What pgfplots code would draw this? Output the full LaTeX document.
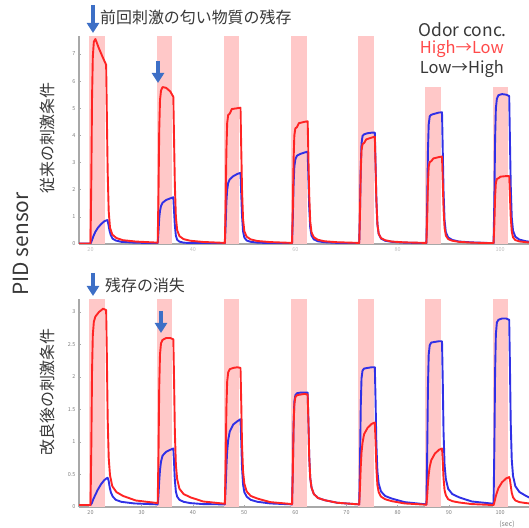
\documentclass[border=0pt]{standalone}
\usepackage{fontspec}
\setmainfont{Noto Sans CJK JP}
\usepackage{pgfplots}
\pgfplotsset{compat=1.18}
\usetikzlibrary{arrows.meta}
\definecolor{lred}{HTML}{FF2424}
\definecolor{lblue}{HTML}{3030E6}
\definecolor{band}{HTML}{FFC8C8}
\definecolor{arr}{HTML}{3D6FC6}
\definecolor{axgray}{HTML}{A8A8A8}
\definecolor{txtgray}{HTML}{383838}
\definecolor{legred}{HTML}{FF4A4A}
\pgfplotsset{
  panel/.style={scale only axis, width=450bp, height=208bp,
    xmin=17.75, xmax=105.64,
    axis x line*=bottom, axis y line*=left,
    axis line style={axgray, line width=1.3pt, -},
    tick style={axgray, line width=0.5pt}, major tick length=2pt,
    tick label style={font=\fontsize{5.5}{6}\selectfont, text=gray},
    /pgf/number format/assume math mode=true,
    clip=true},
  rline/.style={lred, line width=1.9bp, line join=round},
  bline/.style={lblue, line width=1.9bp, line join=round},
  bandf/.style={fill=band, draw=none, forget plot},
}
\begin{document}
\begin{tikzpicture}
\useasboundingbox (0bp,0bp) rectangle (529bp,528bp);
% ---------- top panel ----------
\begin{axis}[panel, at={(79bp,284bp)}, anchor=south west,
  ymin=0, ymax=7.66, ytick={0,1,...,7}, xtick={20,40,...,100},
  xticklabel style={text=gray!50}]
\addplot[bandf] coordinates {(19.8,7.66)(22.85,7.66)} \closedcycle;
\addplot[bandf] coordinates {(32.92,7.66)(35.97,7.66)} \closedcycle;
\addplot[bandf] coordinates {(46.04,7.66)(49.09,7.66)} \closedcycle;
\addplot[bandf] coordinates {(59.16,7.66)(62.21,7.66)} \closedcycle;
\addplot[bandf] coordinates {(72.28,7.66)(75.33,7.66)} \closedcycle;
\addplot[bandf] coordinates {(85.40,5.8)(88.45,5.8)} \closedcycle;
\addplot[bandf] coordinates {(98.52,5.8)(101.57,5.8)} \closedcycle;
\addplot[bline] coordinates {
(17.5,0.02)(20.0,0.02)(20.25,0.12)(20.55,0.28)(20.95,0.45)(21.45,0.6)(22.05,0.73)(22.65,0.83)(23.1,0.87)(23.3,0.88)(23.5,0.72)(23.7,0.5)(23.95,0.33)(24.3,0.2)(24.9,0.13)(26.0,0.08)(28.5,0.05)
(33.12,0.03)(33.27,0.45)(33.42,0.95)(33.57,1.22)(33.77,1.4)(34.07,1.52)(34.77,1.62)(35.57,1.68)(36.17,1.72)(36.32,1.2)(36.47,0.69)(36.67,0.31)(36.92,0.155)(37.37,0.086)(38.17,0.05)(39.47,0.035)(41.97,0.03)
(46.24,0.03)(46.39,0.7)(46.54,1.55)(46.69,2.0)(46.89,2.25)(47.19,2.38)(47.89,2.5)(48.69,2.58)(49.29,2.62)(49.44,1.83)(49.59,1.05)(49.79,0.47)(50.04,0.24)(50.49,0.13)(51.29,0.08)(52.59,0.05)(55.09,0.035)
(59.36,0.03)(59.51,0.95)(59.66,2.2)(59.81,2.85)(60.01,3.12)(60.31,3.25)(61.01,3.32)(61.81,3.37)(62.41,3.4)(62.56,2.38)(62.71,1.36)(62.91,0.61)(63.16,0.31)(63.61,0.17)(64.41,0.1)(65.71,0.065)(68.21,0.04)
(72.48,0.03)(72.63,1.2)(72.78,2.85)(72.93,3.7)(73.13,3.98)(73.43,4.04)(74.13,4.08)(74.93,4.1)(75.53,4.1)(75.68,2.87)(75.83,1.64)(76.03,0.74)(76.28,0.37)(76.73,0.2)(77.53,0.12)(78.83,0.08)(81.33,0.05)
(85.60,0.03)(85.75,1.4)(85.90,3.4)(86.05,4.4)(86.25,4.7)(86.55,4.76)(87.25,4.8)(88.05,4.84)(88.65,4.85)(88.80,3.4)(88.95,1.94)(89.15,0.87)(89.40,0.44)(89.85,0.24)(90.65,0.15)(91.95,0.09)(94.45,0.06)
(98.72,0.03)(98.87,1.6)(99.02,3.9)(99.17,5.0)(99.37,5.35)(99.67,5.48)(100.37,5.52)(101.17,5.5)(101.77,5.45)(101.92,3.8)(102.07,2.18)(102.27,0.98)(102.52,0.49)(102.97,0.27)(103.77,0.16)(105.07,0.1)(106.4,0.07)
};
\addplot[rline] coordinates {
(17.5,0.02)(20.00,0.02)(20.15,2.3)(20.30,5.4)(20.45,6.9)(20.65,7.45)(20.95,7.55)(21.65,7.2)(22.45,6.85)(23.05,6.6)(23.20,4.6)(23.35,2.66)(23.55,1.21)(23.80,0.61)(24.25,0.35)(25.05,0.22)(26.35,0.14)(28.85,0.09)
(33.12,0.05)(33.27,1.8)(33.42,4.2)(33.57,5.3)(33.77,5.65)(34.07,5.78)(34.77,5.75)(35.57,5.62)(36.17,5.42)(36.32,3.8)(36.47,2.2)(36.67,1.0)(36.92,0.51)(37.37,0.29)(38.17,0.18)(39.47,0.12)(41.97,0.075)
(46.24,0.04)(46.39,1.45)(46.54,3.45)(46.69,4.45)(46.89,4.75)(47.19,4.8)(47.39,4.88)(47.59,4.97)(48.69,5.0)(49.29,5.02)(49.44,3.5)(49.59,2.0)(49.79,0.92)(50.04,0.47)(50.49,0.27)(51.29,0.17)(52.59,0.11)(55.09,0.07)
(59.36,0.04)(59.51,1.3)(59.66,3.1)(59.81,4.0)(60.01,4.26)(60.31,4.3)(60.51,4.38)(60.71,4.45)(61.81,4.5)(62.41,4.52)(62.56,3.17)(62.71,1.83)(62.91,0.83)(63.16,0.43)(63.61,0.25)(64.41,0.155)(65.71,0.1)(68.21,0.065)
(72.48,0.04)(72.63,1.12)(72.78,2.68)(72.93,3.46)(73.13,3.68)(73.43,3.72)(73.63,3.78)(73.83,3.85)(74.93,3.92)(75.53,3.95)(75.68,2.77)(75.83,1.6)(76.03,0.73)(76.28,0.38)(76.73,0.22)(77.53,0.14)(78.83,0.09)(81.33,0.06)
(85.60,0.04)(85.75,0.92)(85.90,2.2)(86.05,2.84)(86.25,3.02)(86.55,3.05)(86.75,3.1)(86.95,3.15)(88.05,3.2)(88.65,3.22)(88.80,2.26)(88.95,1.3)(89.15,0.6)(89.40,0.31)(89.85,0.18)(90.65,0.12)(91.95,0.08)(94.45,0.05)
(98.72,0.03)(98.87,0.73)(99.02,1.74)(99.17,2.25)(99.37,2.4)(99.67,2.42)(99.87,2.45)(100.07,2.48)(101.17,2.5)(101.77,2.5)(101.92,1.75)(102.07,1.0)(102.27,0.47)(102.52,0.245)(102.97,0.145)(103.77,0.095)(105.07,0.065)(106.4,0.05)
};
\end{axis}
% ---------- bottom panel ----------
\begin{axis}[panel, at={(79bp,21bp)}, anchor=south west,
  ymin=0, ymax=3.2, ytick={0,0.5,...,3}, xtick={20,30,...,100}]
\addplot[bandf] coordinates {(19.8,3.2)(22.85,3.2)} \closedcycle;
\addplot[bandf] coordinates {(32.92,3.2)(35.97,3.2)} \closedcycle;
\addplot[bandf] coordinates {(46.04,3.2)(49.09,3.2)} \closedcycle;
\addplot[bandf] coordinates {(59.16,3.2)(62.21,3.2)} \closedcycle;
\addplot[bandf] coordinates {(72.28,3.2)(75.33,3.2)} \closedcycle;
\addplot[bandf] coordinates {(85.40,3.2)(88.45,3.2)} \closedcycle;
\addplot[bandf] coordinates {(98.52,3.2)(101.57,3.2)} \closedcycle;
\addplot[bline] coordinates {
(17.5,0.03)(20.0,0.03)(20.25,0.06)(20.55,0.12)(20.95,0.19)(21.45,0.27)(22.05,0.35)(22.65,0.41)(23.1,0.44)(23.35,0.45)(23.55,0.4)(23.75,0.3)(24.0,0.22)(24.35,0.16)(24.95,0.11)(26.0,0.08)(28.5,0.055)
(33.12,0.04)(33.27,0.18)(33.42,0.4)(33.57,0.57)(33.77,0.7)(34.07,0.79)(34.77,0.85)(35.57,0.88)(36.17,0.9)(36.32,0.68)(36.47,0.41)(36.67,0.24)(36.92,0.16)(37.37,0.11)(38.17,0.08)(39.47,0.06)(41.97,0.045)
(46.24,0.04)(46.39,0.3)(46.54,0.62)(46.69,0.86)(46.89,1.03)(47.19,1.16)(47.89,1.27)(48.69,1.32)(49.29,1.35)(49.44,1.01)(49.59,0.61)(49.79,0.35)(50.04,0.23)(50.49,0.16)(51.29,0.11)(52.59,0.08)(55.09,0.055)
(59.36,0.04)(59.51,0.55)(59.66,1.27)(59.81,1.62)(60.01,1.72)(60.31,1.75)(61.01,1.76)(61.81,1.76)(62.41,1.76)(62.56,1.32)(62.71,0.79)(62.91,0.45)(63.16,0.3)(63.61,0.2)(64.41,0.14)(65.71,0.105)(68.21,0.065)
(72.48,0.04)(72.63,0.67)(72.78,1.55)(72.93,1.98)(73.13,2.1)(73.43,2.13)(74.13,2.14)(74.93,2.15)(75.53,2.15)(75.68,1.61)(75.83,0.97)(76.03,0.55)(76.28,0.36)(76.73,0.24)(77.53,0.17)(78.83,0.13)(81.33,0.075)
(85.60,0.04)(85.75,0.78)(85.90,1.83)(86.05,2.34)(86.25,2.49)(86.55,2.53)(87.25,2.54)(88.05,2.55)(88.65,2.55)(88.80,1.91)(88.95,1.15)(89.15,0.65)(89.40,0.43)(89.85,0.28)(90.65,0.2)(91.95,0.15)(94.45,0.085)
(98.72,0.05)(98.87,0.89)(99.02,2.08)(99.17,2.66)(99.37,2.84)(99.67,2.88)(100.37,2.9)(101.17,2.9)(101.77,2.88)(101.92,2.16)(102.07,1.3)(102.27,0.73)(102.52,0.48)(102.97,0.32)(103.77,0.23)(105.07,0.17)(106.4,0.12)
};
\addplot[rline] coordinates {
(17.5,0.03)(20.00,0.03)(20.15,0.9)(20.30,2.1)(20.45,2.65)(20.65,2.85)(20.95,2.93)(21.65,3.0)(22.45,3.05)(23.05,3.03)(23.20,2.27)(23.35,1.36)(23.55,0.76)(23.80,0.49)(24.25,0.32)(25.05,0.23)(26.35,0.17)(28.85,0.1)
(33.12,0.06)(33.27,0.78)(33.42,1.85)(33.57,2.35)(33.77,2.52)(34.07,2.57)(34.77,2.6)(35.57,2.6)(36.17,2.58)(36.32,1.94)(36.47,1.16)(36.67,0.65)(36.92,0.43)(37.37,0.28)(38.17,0.2)(39.47,0.15)(41.97,0.085)
(46.24,0.05)(46.39,0.65)(46.54,1.52)(46.69,1.93)(46.89,2.07)(47.19,2.12)(47.89,2.14)(48.69,2.15)(49.29,2.14)(49.44,1.6)(49.59,0.96)(49.79,0.55)(50.04,0.36)(50.49,0.24)(51.29,0.17)(52.59,0.13)(55.09,0.075)
(59.36,0.045)(59.51,0.53)(59.66,1.24)(59.81,1.58)(60.01,1.69)(60.31,1.72)(61.01,1.73)(61.81,1.74)(62.41,1.73)(62.56,1.3)(62.71,0.78)(62.91,0.45)(63.16,0.3)(63.61,0.2)(64.41,0.14)(65.71,0.105)(68.21,0.065)
(72.48,0.04)(72.63,0.3)(72.78,0.62)(72.93,0.84)(73.13,0.99)(73.43,1.12)(74.13,1.22)(74.93,1.28)(75.53,1.3)(75.68,0.98)(75.83,0.6)(76.03,0.34)(76.28,0.23)(76.73,0.16)(77.53,0.12)(78.83,0.09)(81.33,0.055)
(85.60,0.035)(85.75,0.17)(85.90,0.36)(86.05,0.5)(86.25,0.62)(86.55,0.72)(87.25,0.82)(88.05,0.88)(88.65,0.9)(88.80,0.7)(88.95,0.44)(89.15,0.26)(89.40,0.18)(89.85,0.12)(90.65,0.09)(91.95,0.07)(94.45,0.045)
(98.72,0.03)(98.87,0.07)(99.02,0.12)(99.17,0.17)(99.37,0.22)(99.67,0.29)(100.37,0.38)(101.17,0.44)(101.77,0.46)(101.92,0.42)(102.07,0.33)(102.27,0.22)(102.52,0.15)(102.97,0.1)(103.77,0.075)(105.07,0.06)(106.4,0.05)
};
\end{axis}
% ---------- annotations ----------
\node[anchor=west, font=\fontsize{16}{17}\selectfont, text=txtgray, inner sep=0] at (100bp,511bp) {前回刺激の匂い物質の残存};
\node[anchor=west, font=\fontsize{16}{17}\selectfont, text=txtgray, inner sep=0] at (105bp,243bp) {残存の消失};
\node[anchor=east, font=\fontsize{17.5}{18}\selectfont, text=txtgray, inner sep=0] at (507bp,498bp) {Odor conc.};
\node[anchor=east, font=\fontsize{16.5}{18}\selectfont, text=legred, inner sep=0] at (504bp,479bp) {High→Low};
\node[anchor=east, font=\fontsize{16.5}{18}\selectfont, text=txtgray, inner sep=0] at (504bp,459bp) {Low→High};
\node[rotate=90, font=\fontsize{16}{17}\selectfont, text=txtgray, inner sep=0] at (47bp,390bp) {従来の刺激条件};
\node[rotate=90, font=\fontsize{16}{17}\selectfont, text=txtgray, inner sep=0] at (47bp,136bp) {改良後の刺激条件};
\node[rotate=90, font=\fontsize{21}{22}\selectfont, text=txtgray, inner sep=0] at (21bp,284bp) {PID sensor};
\node[font=\fontsize{7}{8}\selectfont, text=gray, inner sep=0] at (507bp,4bp) {(sec)};
\draw[arr, line width=3.4bp, -{Triangle[width=12bp,length=10bp]}] (93bp,523bp) -- (93bp,495bp);
\draw[arr, line width=3.4bp, -{Triangle[width=12bp,length=10bp]}] (158bp,467bp) -- (158bp,445bp);
\draw[arr, line width=3.4bp, -{Triangle[width=12bp,length=10bp]}] (93bp,255bp) -- (93bp,232bp);
\draw[arr, line width=3.4bp, -{Triangle[width=12bp,length=10bp]}] (161bp,217bp) -- (161bp,195bp);
\end{tikzpicture}
\end{document}
